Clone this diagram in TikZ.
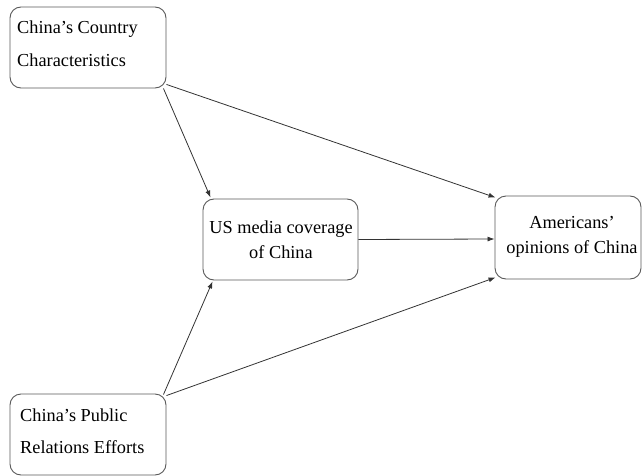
\documentclass[tikz,border=0pt]{standalone}
\usepackage{fontspec}
\setmainfont{Liberation Serif}
\usetikzlibrary{arrows.meta,calc}
\begin{document}
\begin{tikzpicture}[x=1pt,y=1pt,
  box/.style={draw=black!65,line width=0.9pt,rounded corners=11pt,inner sep=0pt},
  lbl/.style={font=\fontsize{18.3}{24.5}\selectfont,inner sep=0pt},
  conn/.style={draw=black!80,line width=0.8pt,-{Latex[length=7pt,width=5pt]}}]
\useasboundingbox (0,0) rectangle (642,-476);
\node[box,minimum width=156pt,minimum height=81pt] (b1) at (88,-47.5) {};
\node[box,minimum width=155pt,minimum height=81pt] (b2) at (280.5,-239.5) {};
\node[box,minimum width=146pt,minimum height=83pt] (b3) at (568,-237.5) {};
\node[box,minimum width=156pt,minimum height=81pt] (b4) at (88,-434.5) {};
\node[lbl,anchor=base west] (t1a) at (17,-34) {China’s Country};
\node[lbl,anchor=base west] (t1b) at (17,-67) {Characteristics};
\node[lbl,align=center,anchor=base] (t2) at (281,-258) {US media coverage\\of China};
\node[lbl,align=center,anchor=base] (t3) at (572,-253) {Americans’\\opinions of China};
\node[lbl,anchor=base west] (t4a) at (20,-421) {China’s Public};
\node[lbl,anchor=base west] (t4b) at (20,-453) {Relations Efforts};
\draw[conn] ($(b1.south east)+(-3,0)$) -- ($(b2.north west)+(8,1)$);
\draw[conn] ($(b1.south east)+(0,4)$) -- ($(b3.north west)+(1,-2)$);
\draw[conn] (b2.east) -- ($(b3.west)+(0,-1.5)$);
\draw[conn] ($(b4.north east)+(-3,-1)$) -- ($(b2.south west)+(10,-1)$);
\draw[conn] ($(b4.north east)+(0,-2)$) -- ($(b3.south west)+(1,2)$);
\end{tikzpicture}
\end{document}
